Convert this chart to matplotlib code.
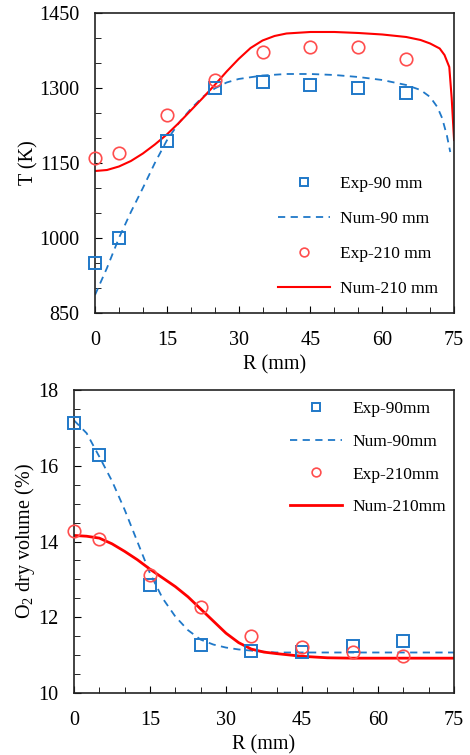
import numpy as np
import matplotlib
matplotlib.use("Agg")
import matplotlib.pyplot as plt
from matplotlib.ticker import MultipleLocator

plt.rcParams['font.family'] = ['Liberation Serif', 'DejaVu Serif']
plt.rcParams['mathtext.fontset'] = 'custom'
plt.rcParams['mathtext.rm'] = 'Liberation Serif'
plt.rcParams['mathtext.it'] = 'Liberation Serif:italic'

BLUE = '#1f78c8'
RED = '#ff0000'
RED_MK = '#ff4d4d'

# --- temperature panel data ---
r_exp = [0, 5, 15, 25, 35, 45, 55, 65]
t_exp90 = [950, 1000, 1195, 1300, 1312, 1305, 1300, 1290]
t_exp210 = [1160, 1170, 1245, 1315, 1372, 1382, 1382, 1357]

r_num90_t = [0, 2.5, 5, 7.5, 10, 12.5, 15, 17.5, 20, 22.5, 25, 27.5, 30, 35, 40, 45, 50, 55, 60, 65, 68, 70, 71.5, 72.5, 73.5, 74.2]
t_num90 = [886, 940, 1000, 1052, 1100, 1150, 1195, 1230, 1258, 1282, 1299, 1311, 1318, 1325, 1328, 1328, 1326, 1322, 1316, 1306, 1296, 1282, 1262, 1240, 1205, 1172]

r_num210_t = [0, 2.5, 5, 7.5, 10, 12.5, 15, 17.5, 20, 22.5, 25, 27.5, 30, 32.5, 35, 37.5, 40, 45, 50, 55, 60, 65, 68, 70, 72, 73, 74, 74.5, 75]
t_num210 = [1134, 1136, 1143, 1154, 1169, 1187, 1207, 1230, 1255, 1280, 1306, 1333, 1358, 1380, 1395, 1404, 1409, 1412, 1412, 1410, 1407, 1402, 1396, 1389, 1379, 1366, 1342, 1280, 1196]
t_ticks = [850, 1000, 1150, 1300, 1450]

# --- O2 panel data ---
o2_exp90 = [17.12, 16.29, 12.86, 11.27, 11.12, 11.07, 11.23, 11.38]
o2_exp210 = [14.28, 14.07, 13.12, 12.27, 11.51, 11.21, 11.08, 10.98]

r_num_o2 = [0, 2.5, 5, 7.5, 10, 12.5, 15, 17.5, 20, 22.5, 25, 27.5, 30, 32.5, 35, 37.5, 40, 45, 50, 55, 60, 65, 70, 75]
o2_num90 = [17.2, 16.86, 16.24, 15.6, 14.84, 14.0, 13.16, 12.5, 12.02, 11.66, 11.41, 11.28, 11.2, 11.15, 11.12, 11.09, 11.07, 11.07, 11.07, 11.07, 11.07, 11.07, 11.07, 11.07]
o2_num210 = [14.16, 14.14, 14.09, 13.94, 13.74, 13.52, 13.27, 13.04, 12.81, 12.54, 12.22, 11.9, 11.58, 11.33, 11.16, 11.08, 11.04, 10.97, 10.93, 10.92, 10.92, 10.92, 10.92, 10.92]

fig = plt.figure(figsize=(4.7, 7.55), dpi=100)
ax1 = fig.add_axes([0.2021, 0.5854, 0.764, 0.3974])
ax2 = fig.add_axes([0.1574, 0.0821, 0.8085, 0.4013])

def style(ax):
    ax.tick_params(which='both', direction='in', top=False, right=False, labelsize=14.5)
    ax.tick_params(axis='x', pad=13)
    ax.tick_params(axis='y', pad=11)
    ax.tick_params(which='major', length=5)
    ax.tick_params(which='minor', length=4)
    ax.set_xlim(0, 75)
    ax.xaxis.set_major_locator(MultipleLocator(15))
    ax.xaxis.set_minor_locator(MultipleLocator(5))
    for s in ax.spines.values():
        s.set_linewidth(1.2)
        s.set_color('#222222')

# top: temperature
ax1.plot(r_exp, t_exp90, 's', ms=9, mfc='none', mec=BLUE, mew=1.4, label='Exp-90 mm', clip_on=False, zorder=3)
ax1.plot(r_num90_t, t_num90, '--', color=BLUE, lw=1.3, dashes=(4, 3), label='Num-90 mm')
ax1.plot(r_exp, t_exp210, 'o', ms=9, mfc='none', mec=RED_MK, mew=1.2, label='Exp-210 mm', clip_on=False, zorder=3)
ax1.plot(r_num210_t, t_num210, '-', color=RED, lw=1.5, label='Num-210 mm')
style(ax1)
ax1.set_ylim(850, 1450)
ax1.set_yticks(t_ticks)
ax1.yaxis.set_minor_locator(MultipleLocator(50))
ax1.set_xlabel('R (mm)', fontsize=14.5, labelpad=4)
ax1.set_ylabel('T (K)', fontsize=14.5, labelpad=1)
ax1.legend(loc='lower right', bbox_to_anchor=(1.0, 0.0), frameon=False, fontsize=12.5,
           markerscale=0.7, handlelength=3.0, labelspacing=1.1, handletextpad=0.6)

# bottom: O2
ax2.plot(r_exp, o2_exp90, 's', ms=9, mfc='none', mec=BLUE, mew=1.4, label='Exp-90mm', clip_on=False, zorder=3)
ax2.plot(r_num_o2, o2_num90, '--', color=BLUE, lw=1.3, dashes=(4, 3), label='Num-90mm')
ax2.plot(r_exp, o2_exp210, 'o', ms=9, mfc='none', mec=RED_MK, mew=1.2, label='Exp-210mm', clip_on=False, zorder=3)
ax2.plot(r_num_o2, o2_num210, '-', color=RED, lw=2.0, label='Num-210mm')
style(ax2)
ax2.set_ylim(10, 18)
ax2.yaxis.set_major_locator(MultipleLocator(2))
ax2.yaxis.set_minor_locator(MultipleLocator(0.5))
ax2.set_xlabel('R (mm)', fontsize=14.5, labelpad=4)
ax2.set_ylabel('O$_2$ dry volume (%)', fontsize=14.5, labelpad=1)
ax2.legend(loc='upper right', bbox_to_anchor=(1.02, 1.015), frameon=False, fontsize=12.5,
           markerscale=0.7, handlelength=3.0, labelspacing=0.95, handletextpad=0.6)

fig.savefig('out.png', dpi=100)
